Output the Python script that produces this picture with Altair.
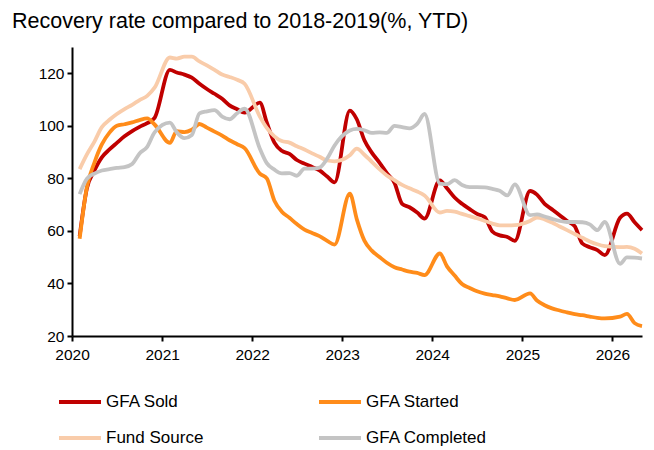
import altair as alt
import pandas as pd

# ---- data (Feb-Dec each year, Jan merged into Feb in the statistics) ----
years = [2020, 2021, 2022, 2023, 2024, 2025]
months_full = list(range(2, 13))
last_year = 2026
months_last = [2, 3, 4, 5]

gfa_sold = [
    58, 76, 83, 88, 91, 93.5, 96, 98, 99.6, 101, 103,
    121.3, 120.3, 119.5, 118.3, 116, 114, 112.2, 110.3, 107.8, 106.3, 105,
    108.8, 101.3, 93.6, 90.5, 89.3, 87, 85.6, 84.3, 83, 80.7, 78.5,
    105.8, 102.5, 94.5, 89.8, 86, 82, 78.3, 70.3, 69, 67, 64.7,
    79.2, 76.2, 72.7, 70.3, 68.3, 66.5, 65.2, 59.8, 58.3, 57.7, 56.2,
    75.2, 73.8, 70.3, 68.2, 66, 63.8, 61.8, 55.2, 53.8, 52.7, 50.8,
    65, 66.6, 63.3, 60.3,
]
gfa_started = [
    57, 76.5, 86, 92.9, 97.4, 100, 100.6, 101.3, 102.2, 102.8, 100.5,
    93.5, 98, 97.6, 98.5, 100.7, 99.3, 97.8, 96.3, 94.5, 93, 91.5,
    81.8, 80, 71.5, 67.3, 65, 62.6, 60.5, 59.2, 58, 56.2, 54.8,
    74.2, 64.5, 56.3, 52.5, 50.1, 47.9, 46.2, 45.3, 44.5, 44, 43.2,
    51.4, 46.5, 43, 39.8, 38.3, 37, 36.1, 35.6, 35.1, 34.3, 33.7,
    36.2, 33.5, 31.7, 30.5, 29.7, 29, 28.3, 27.9, 27.4, 26.9, 26.7,
    27.4, 28.4, 24.9, 23.8,
]
fund_source = [
    83.5, 89, 94, 99.5, 102.3, 104.5, 106.4, 108, 109.8, 111.4, 114.5,
    126, 125.6, 126.3, 126.3, 124.5, 123, 121.3, 119.5, 118.6, 117.5, 116,
    103.5, 99.2, 96, 94.2, 93.6, 92.2, 91, 89.5, 88.2, 86.8, 86.5,
    88.8, 91.3, 89, 86.3, 83.5, 81.1, 79.3, 77.5, 76.2, 75, 73.5,
    67, 67.6, 67.3, 66.5, 65.6, 64.8, 63.8, 62.8, 62.1, 62.1, 62.2,
    63.8, 65.1, 64.4, 63.2, 61.7, 60.3, 58.8, 57.4, 56, 54.9, 54.2,
    53.8, 53.9, 53.2, 51.4,
]
gfa_completed = [
    74, 79.8, 81.8, 83, 83.5, 84, 84.3, 85.5, 89.5, 92, 97.5,
    101.2, 97.5, 95.3, 96.5, 104.7, 105.5, 106, 103.5, 102.5, 104.8, 106.5,
    91.3, 85.8, 83.3, 81.9, 82, 81, 83.7, 83.7, 84.1, 87.5, 92.5,
    98.2, 98.8, 98.3, 97.3, 97.5, 97.3, 100, 99.5, 99, 100.7, 104.5,
    78, 77.8, 79.3, 77.5, 76.7, 76.7, 76.6, 76, 75.3, 73.5, 77.7,
    66, 66.3, 65.5, 64.6, 63.8, 63.4, 63.4, 63.3, 62.5, 60.3, 63.4,
    47.5, 49.9, 49.8, 49.5,
]

# legend is filled column by column: column 1 = GFA Sold / Fund Source
series_names = ["GFA Sold", "Fund Source", "GFA Started", "GFA Completed"]
series_colors = ["#C00000", "#F9CCAA", "#FF8C1A", "#C4C4C4"]
draw_order = ["GFA Sold", "GFA Started", "Fund Source", "GFA Completed"]
tick_years = [2020, 2021, 2022, 2023, 2024, 2025, 2026]
y_ticks = [20, 40, 60, 80, 100, 120]
title_text = "Recovery rate compared to 2018-2019(%, YTD)"

dates = [f"{y}-{m:02d}-01" for y in years for m in months_full] + \
        [f"{last_year}-{m:02d}-01" for m in months_last]

wide = pd.DataFrame({
    "date": dates,
    "GFA Sold": gfa_sold,
    "GFA Started": gfa_started,
    "Fund Source": fund_source,
    "GFA Completed": gfa_completed,
})
df = wide.melt(id_vars="date", var_name="series", value_name="value")
order_map = {n: i for i, n in enumerate(draw_order)}
df["k"] = df["series"].map(order_map)

FONT = "Liberation Sans"

x_enc = alt.X(
    "date:T",
    scale=alt.Scale(
        type="utc",
        domain=[alt.DateTime(year=2020, month=1, date=1, utc=True),
                alt.DateTime(year=2026, month=5, date=1, utc=True)],
    ),
    axis=alt.Axis(
        values=[alt.DateTime(year=y, month=1, date=1, utc=True) for y in tick_years],
        format="%Y", title=None, grid=False,
        domainColor="black", domainWidth=2, tickColor="black", tickWidth=2, tickSize=5,
        labelFont=FONT, labelFontSize=15.5, labelColor="black", labelPadding=6,
        labelFlush=False, labelOverlap=False,
    ),
)
y_enc = alt.Y(
    "value:Q",
    scale=alt.Scale(domain=[20, 130], nice=False, zero=False),
    axis=alt.Axis(
        values=y_ticks, title=None, grid=False,
        domainColor="black", domainWidth=2, tickColor="black", tickWidth=2, tickSize=5,
        labelFont=FONT, labelFontSize=15.5, labelColor="black", labelPadding=3,
    ),
)
color_enc = alt.Color(
    "series:N",
    scale=alt.Scale(domain=series_names, range=series_colors),
    sort=series_names,
    legend=alt.Legend(
        title=None, orient="none", legendX=-15, legendY=345, columns=2,
        symbolType="stroke", symbolSize=1764, symbolStrokeWidth=4,
        labelFont=FONT, labelFontSize=17, labelColor="black", labelOffset=3,
        columnPadding=113, rowPadding=16, clipHeight=20, padding=0,
    ),
)

chart = alt.Chart(df).mark_line(
    strokeWidth=3.8, interpolate="monotone"
).encode(
    x=x_enc, y=y_enc, color=color_enc, order=alt.Order("date:T"),
    detail="k:O",
).properties(
    width=570, height=289,
    title=alt.TitleParams(
        text=title_text, anchor="start", frame="group", dx=-60, offset=15,
        fontSize=21.5, font=FONT, fontWeight="normal", color="black",
    ),
    autosize=alt.AutoSizeParams(type="none"),
    padding={"left": 64, "top": 39, "right": 4, "bottom": 114},
).configure_view(strokeWidth=0)

chart.save("out.html", embed_options={"renderer": "svg", "actions": False})
